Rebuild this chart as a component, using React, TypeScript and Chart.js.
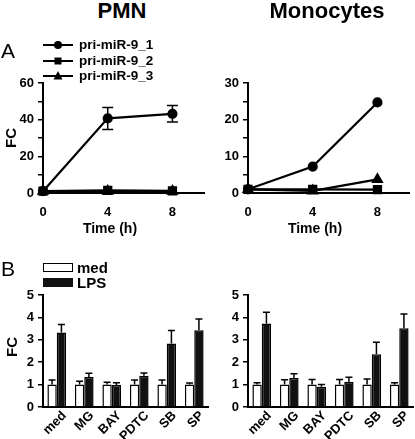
import React, { useEffect, useRef, useState } from "react";
import { Chart, registerables } from "chart.js";

Chart.register(...registerables);

// ---- data ----
const timePoints = [0, 4, 8];
const timeTicks = [0, 4, 8];

const pmnMiR9_1 = [1, 40.7, 43.2];
const pmnMiR9_1Err = [0, 6, 4.5];
const pmnMiR9_2 = [1, 1.4, 1.2];
const pmnMiR9_3 = [1, 1.0, 1.0];

const monoMiR9_1 = [1, 7.2, 24.7];
const monoMiR9_2 = [1, 1.0, 0.9];
const monoMiR9_3 = [1, 0.6, 3.7];

const seriesNames = ["pri-miR-9_1", "pri-miR-9_2", "pri-miR-9_3"];

const treatments = ["med", "MG", "BAY", "PDTC", "SB", "SP"];
const pmnMed = [1, 1, 1, 1, 1, 1];
const pmnMedErr = [0.2, 0.15, 0.1, 0.2, 0.2, 0.07];
const pmnLPS = [3.33, 1.34, 0.98, 1.39, 2.84, 3.43];
const pmnLPSErr = [0.35, 0.17, 0.1, 0.13, 0.58, 0.5];
const monoMed = [1, 1, 1, 1, 1, 1];
const monoMedErr = [0.08, 0.22, 0.23, 0.23, 0.25, 0.08];
const monoLPS = [3.73, 1.3, 0.9, 1.13, 2.36, 3.52];
const monoLPSErr = [0.5, 0.18, 0.1, 0.2, 0.53, 0.63];

const FONT = "'Liberation Sans', Arial, Helvetica, sans-serif";

const errorBarPlugin = {
  id: "errorBars",
  afterDatasetsDraw(chart: any) {
    const ctx = chart.ctx;
    const yScale = chart.scales.y;
    chart.data.datasets.forEach((ds: any, i: number) => {
      const errs = ds.errors;
      if (!errs) return;
      const meta = chart.getDatasetMeta(i);
      const cap = ds.capWidth || 7;
      meta.data.forEach((el: any, j: number) => {
        const e = errs[j];
        if (!e) return;
        const raw = ds.data[j];
        const v = typeof raw === "number" ? raw : raw.y;
        const yTop = yScale.getPixelForValue(v + e);
        const yBot = ds.errorBoth ? yScale.getPixelForValue(v - e) : el.y;
        ctx.save();
        ctx.strokeStyle = "#000";
        ctx.lineWidth = 1.5;
        ctx.beginPath();
        ctx.moveTo(el.x, yBot);
        ctx.lineTo(el.x, yTop);
        ctx.moveTo(el.x - cap / 2, yTop);
        ctx.lineTo(el.x + cap / 2, yTop);
        if (ds.errorBoth) {
          ctx.moveTo(el.x - cap / 2, yBot);
          ctx.lineTo(el.x + cap / 2, yBot);
        }
        ctx.stroke();
        ctx.restore();
      });
    });
  },
};

const tickFont = { family: FONT, size: 13, weight: "bold" as const };

function yAxis(max: number, step: number, labelEvery: number) {
  return {
    min: 0,
    max,
    afterFit: (s: any) => {
      s.width = 43;
    },
    ticks: {
      stepSize: step,
      autoSkip: false,
      color: "#000",
      font: tickFont,
      padding: 4,
      callback: (v: any) => (Math.round(v) % labelEvery === 0 ? String(v) : ""),
    },
    grid: { drawOnChartArea: false, drawTicks: true, tickLength: 5, color: "#000", lineWidth: 1.5 },
    border: { display: true, color: "#000", width: 2 },
  };
}

function lineConfig(s1: number[], s2: number[], s3: number[], err1: number[] | null, yMax: number, yStep: number, labelEvery: number) {
  const mk = (vals: number[]) => vals.map((v, i) => ({ x: timePoints[i], y: v }));
  const base = { borderColor: "#000", backgroundColor: "#000", borderWidth: 2.2, clip: false as any };
  return {
    type: "line" as const,
    data: {
      datasets: [
        { ...base, label: seriesNames[0], data: mk(s1), pointStyle: "circle", pointRadius: 4, errors: err1, errorBoth: true, capWidth: 11 },
        { ...base, label: seriesNames[1], data: mk(s2), pointStyle: "rect", pointRadius: 5 },
        { ...base, label: seriesNames[2], data: mk(s3), pointStyle: "triangle", pointRadius: 5 },
      ],
    },
    options: {
      animation: false as const,
      responsive: false,
      devicePixelRatio: 1,
      layout: { padding: { top: 23, right: 4, left: 0, bottom: 0 } },
      plugins: { legend: { display: false }, tooltip: { enabled: false } },
      scales: {
        x: {
          type: "linear" as const,
          min: 0,
          max: 10,
          afterFit: (s: any) => {
            s.height = 47;
          },
          afterBuildTicks: (s: any) => {
            s.ticks = timeTicks.map((v) => ({ value: v }));
          },
          ticks: { color: "#000", font: tickFont, padding: 12, autoSkip: false },
          grid: { display: false, drawTicks: false },
          border: { display: true, color: "#000", width: 2 },
        },
        y: yAxis(yMax, yStep, labelEvery),
      },
    },
    plugins: [errorBarPlugin],
  };
}

function barConfig(med: number[], medErr: number[], lps: number[], lpsErr: number[]) {
  return {
    type: "bar" as const,
    data: {
      labels: treatments,
      datasets: [
        { label: "med", data: med, errors: medErr, backgroundColor: "#fff", borderColor: "#000", borderWidth: 1.5, capWidth: 7, barPercentage: 1, categoryPercentage: 0.68 },
        { label: "LPS", data: lps, errors: lpsErr, backgroundColor: "#111", borderColor: "#000", borderWidth: 1.5, capWidth: 7, barPercentage: 1, categoryPercentage: 0.68 },
      ],
    },
    options: {
      animation: false as const,
      responsive: false,
      devicePixelRatio: 1,
      layout: { padding: { top: 15, right: 4, left: 0, bottom: 0 } },
      plugins: { legend: { display: false }, tooltip: { enabled: false } },
      scales: {
        x: {
          type: "category" as const,
          offset: true,
          afterFit: (s: any) => {
            s.height = 32;
          },
          ticks: { display: false },
          grid: { display: false, drawTicks: false },
          border: { display: true, color: "#000", width: 2 },
        },
        y: yAxis(5, 1, 1),
      },
    },
    plugins: [errorBarPlugin],
  };
}

type LabelPos = { text: string; x: number; y: number };

function ChartBox({ left, top, width, height, config, rotatedLabels }: any) {
  const ref = useRef<HTMLCanvasElement>(null);
  const [labels, setLabels] = useState<LabelPos[]>([]);
  useEffect(() => {
    const chart: any = new Chart(ref.current as HTMLCanvasElement, config as any);
    if (rotatedLabels) {
      const xs = chart.scales.x;
      const labs: string[] = chart.data.labels || [];
      setLabels(labs.map((t, i) => ({ text: t, x: xs.getPixelForTick(i) + 7, y: xs.top + 6 })));
    }
    return () => chart.destroy();
  }, []);
  return (
    <>
      <canvas
        ref={ref}
        width={width}
        height={height}
        style={{ position: "absolute", left, top, width, height }}
      />
      {labels.length > 0 && (
        <svg
          style={{ position: "absolute", left, top, overflow: "visible" }}
          width={width}
          height={height}
        >
          {labels.map((l, i) => (
            <text
              key={i}
              x={0}
              y={0}
              transform={`translate(${l.x} ${l.y}) rotate(-45)`}
              textAnchor="end"
              dominantBaseline="central"
              fontFamily={FONT}
              fontSize={13}
              fontWeight="bold"
              fill="#000"
            >
              {l.text}
            </text>
          ))}
        </svg>
      )}
    </>
  );
}

function Txt({ x, y, size, bold = true, rotate = 0, children, align = "center" }: any) {
  const tx = align === "center" ? "-50%" : "0";
  return (
    <div
      style={{
        position: "absolute",
        left: x,
        top: y,
        transform: `translate(${tx}, -50%) rotate(${rotate}deg)`,
        fontFamily: FONT,
        fontSize: size,
        fontWeight: bold ? "bold" : "normal",
        lineHeight: 1,
        whiteSpace: "nowrap",
        color: "#000",
      }}
    >
      {children}
    </div>
  );
}

function LineLegend() {
  const rows = [45, 61, 76];
  return (
    <>
      <svg style={{ position: "absolute", left: 0, top: 0 }} width={90} height={90}>
        {rows.map((y, i) => (
          <g key={i}>
            <line x1={43} x2={73} y1={y} y2={y} stroke="#000" strokeWidth={2} />
            {i === 0 && <circle cx={58} cy={y} r={4} fill="#000" />}
            {i === 1 && <rect x={54.5} y={y - 3.5} width={7} height={7} fill="#000" />}
            {i === 2 && <polygon points={`58,${y - 5} 62.5,${y + 3.5} 53.5,${y + 3.5}`} fill="#000" />}
          </g>
        ))}
      </svg>
      {rows.map((y, i) => (
        <Txt key={i} x={79} y={y} size={13.5} align="left">
          {seriesNames[i]}
        </Txt>
      ))}
    </>
  );
}

function BarLegend() {
  return (
    <>
      <div style={{ position: "absolute", left: 43, top: 263, width: 30, height: 9, border: "1.5px solid #000", boxSizing: "border-box", background: "#fff" }} />
      <div style={{ position: "absolute", left: 43, top: 278, width: 30, height: 9, background: "#111" }} />
      <Txt x={77} y={267} size={15} align="left">med</Txt>
      <Txt x={77} y={282} size={15} align="left">LPS</Txt>
    </>
  );
}

export default function App() {
  return (
    <div style={{ position: "absolute", left: 0, top: 0, width: 415, height: 439, overflow: "hidden", background: "#fff" }}>
      <ChartBox left={0} top={60} width={212} height={180} config={lineConfig(pmnMiR9_1, pmnMiR9_2, pmnMiR9_3, pmnMiR9_1Err, 60, 10, 20)} />
      <ChartBox left={205} top={60} width={212} height={180} config={lineConfig(monoMiR9_1, monoMiR9_2, monoMiR9_3, null, 30, 5, 10)} />
      <ChartBox left={0} top={280} width={212} height={159} config={barConfig(pmnMed, pmnMedErr, pmnLPS, pmnLPSErr)} rotatedLabels />
      <ChartBox left={205} top={280} width={212} height={159} config={barConfig(monoMed, monoMedErr, monoLPS, monoLPSErr)} rotatedLabels />

      <Txt x={122} y={11} size={22}>PMN</Txt>
      <Txt x={327} y={11} size={22}>Monocytes</Txt>
      <Txt x={1} y={50} size={21} bold={false} align="left">A</Txt>
      <Txt x={1} y={268} size={21} bold={false} align="left">B</Txt>
      <Txt x={10} y={138} size={15} rotate={-90}>FC</Txt>
      <Txt x={11} y={347} size={15} rotate={-90}>FC</Txt>
      <Txt x={110} y={228} size={14}>Time (h)</Txt>
      <Txt x={315} y={228} size={14}>Time (h)</Txt>
      <LineLegend />
      <BarLegend />
    </div>
  );
}
